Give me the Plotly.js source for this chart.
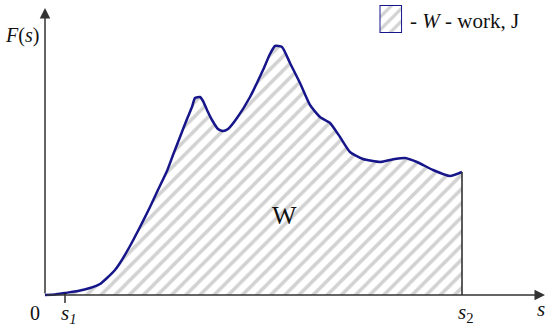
<!DOCTYPE html>
<html>
<head>
<meta charset="utf-8">
<script src="https://cdn.plot.ly/plotly-3.0.1.min.js"></script>
<style>
  html, body { margin: 0; padding: 0; background: #fff; }
  #chart { width: 550px; height: 331px; }
</style>
</head>
<body>
<div id="chart"></div>
<script>
// displacement s and force F(s) (arbitrary units)
var sValues = [0, 10, 20, 33, 45, 55, 62, 70, 75, 85, 95, 105, 112, 122, 128, 135, 142, 147, 150, 155,
	158, 162, 167, 173, 178, 183, 192, 205, 218, 225, 230, 237, 245, 255, 265, 275, 285, 295, 305,
	318, 335, 350, 360, 372, 388, 405, 417];
var forceValues = [0, 0.5, 2, 4, 7, 11, 17, 25, 32, 49, 68, 88, 103, 124, 140, 158, 176, 188, 197, 198,
	194, 185, 175, 166, 164, 166, 177, 198, 225, 241, 249, 248, 232, 212, 190, 178, 172, 158, 143,
	136, 133, 136, 137, 133, 125, 119, 123];

var s1 = 20;
var s2 = 417;
var sAxisEnd = 500;
var fAxisEnd = 287;

var legendLabel = ['- <i>W</i> - work, J'];
var legendValue = [1];

window.onload = function () {
	drawWorkChart();
}

function drawWorkChart() {
	var target = document.getElementById('chart');
	var serif = 'Liberation Serif, Times New Roman, serif';
	var dark = '#333333';
	var navy = '#16168a';

	var data = [
		{
			x: sValues,
			y: forceValues,
			type: 'scatter',
			mode: 'lines',
			fill: 'tozeroy',
			fillcolor: 'rgba(0,0,0,0)',
			fillpattern: {shape: '/', fgcolor: '#d2d2d2', bgcolor: 'white', size: 10, solidity: 0.35},
			line: {color: navy, width: 2.5, shape: 'spline', smoothing: 0.5},
			hoverinfo: 'skip',
			showlegend: false
		},
		{
			// hatched square of the legend
			x: legendLabel,
			y: legendValue,
			type: 'bar',
			xaxis: 'x2',
			yaxis: 'y2',
			width: 1,
			marker: {
				color: 'white',
				pattern: {shape: '/', fgcolor: '#d2d2d2', bgcolor: 'white', size: 9, solidity: 0.35},
				line: {color: navy, width: 2}
			},
			hoverinfo: 'skip',
			showlegend: false
		}
	];

	var layout = {
		width: 550,
		height: 331,
		margin: {l: 0, r: 0, t: 0, b: 0},
		paper_bgcolor: 'white',
		plot_bgcolor: 'white',
		showlegend: false,
		xaxis: {range: [-45, 505], visible: false, fixedrange: true},
		yaxis: {range: [-36, 295], visible: false, fixedrange: true},
		xaxis2: {domain: [0.69, 0.731], range: [-0.5, 0.5], visible: false, anchor: 'y2'},
		yaxis2: {domain: [0.9, 0.985], range: [0, 1], visible: false, anchor: 'x2'},
		shapes: [
			{type: 'line', x0: s1, x1: s1, y0: -8, y1: 2, line: {color: '#111', width: 1.3}},
			{type: 'line', x0: s2, x1: s2, y0: 0, y1: forceValues[forceValues.length - 1],
				line: {color: dark, width: 1.6}}
		],
		annotations: [
			{x: 0, y: fAxisEnd, ax: 0, ay: 0, axref: 'x', ayref: 'y', text: '', showarrow: true,
				arrowhead: 2, arrowsize: 1.4, arrowwidth: 1.5, arrowcolor: dark},
			{x: sAxisEnd, y: 0, ax: 0, ay: 0, axref: 'x', ayref: 'y', text: '', showarrow: true,
				arrowhead: 2, arrowsize: 1.4, arrowwidth: 1.5, arrowcolor: dark},
			{x: -23, y: 260, text: '<i>F</i>(<i>s</i>)', showarrow: false, font: {family: serif, size: 20, color: '#111'}},
			{x: -10, y: -18, text: '0', showarrow: false, font: {family: serif, size: 20, color: '#111'}},
			{x: 24, y: -19, text: '<i>s</i><sub><i>1</i></sub>', showarrow: false, font: {family: serif, size: 21, color: '#111'}},
			{x: 421, y: -18, text: '<i>s</i><sub>2</sub>', showarrow: false, font: {family: serif, size: 21, color: '#111'}},
			{x: 496, y: -14, text: '<i>s</i>', showarrow: false, font: {family: serif, size: 21, color: '#111'}},
			{x: 239, y: 80, text: 'W', showarrow: false, font: {family: serif, size: 26, color: '#111'}},
			{x: 363, y: 274, xanchor: 'left', text: legendLabel[0], showarrow: false,
				font: {family: serif, size: 21, color: '#111'}}
		]
	};

	Plotly.newPlot(target, data, layout, {staticPlot: true, displayModeBar: false});
}
</script>
</body>
</html>
